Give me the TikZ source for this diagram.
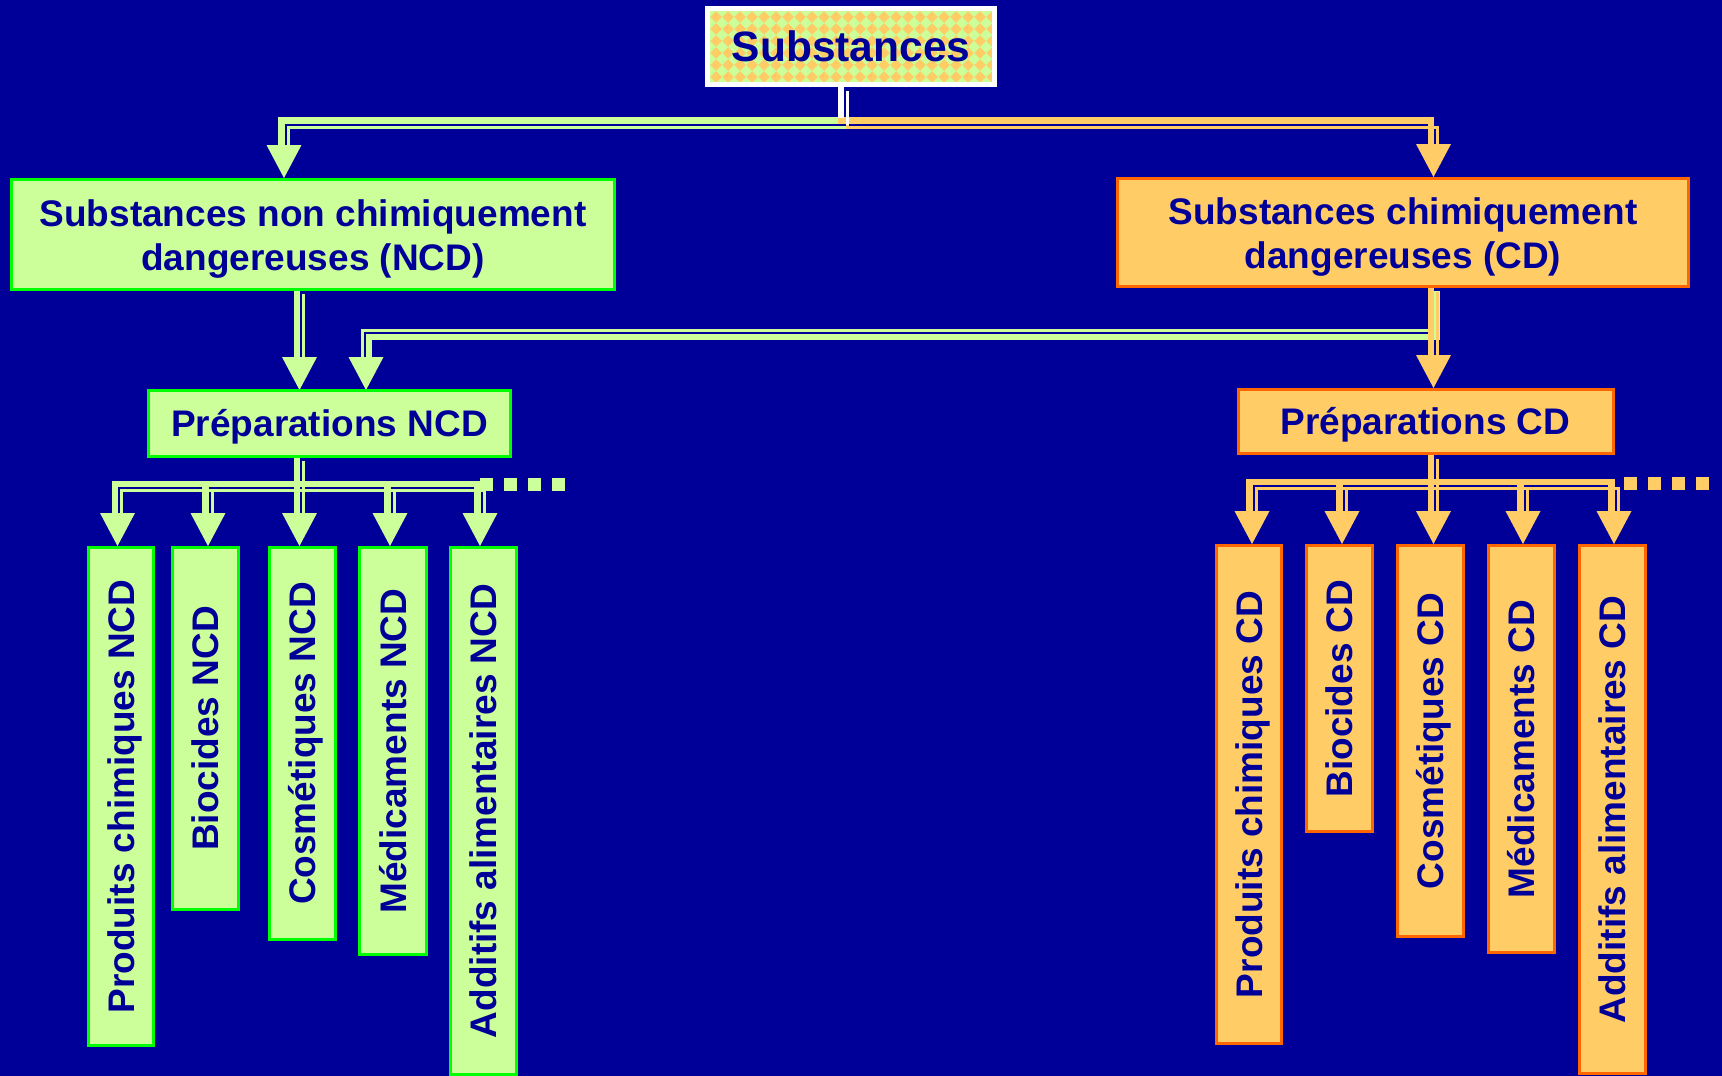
\documentclass[tikz,border=0pt]{standalone}
\usepackage{fontspec}
\setmainfont{Liberation Sans}
\definecolor{navy}{RGB}{0,0,153}
\definecolor{lightgreen}{RGB}{204,255,153}
\definecolor{brightgreen}{RGB}{0,255,0}
\definecolor{lightorange}{RGB}{255,204,102}
\definecolor{deeporange}{RGB}{255,102,0}

\pgfdeclarelayer{back}
\pgfdeclarelayer{links}
\pgfsetlayers{back,links,main}

\tikzset{
  lbl/.style={font=\fontsize{37}{44.5}\selectfont\bfseries, text=navy, align=center, inner sep=0pt},
  capmid/.style={text height=26.5pt, text depth=0pt},
  ncdbox/.style={lbl, draw=brightgreen, fill=lightgreen, line width=3pt},
  cdbox/.style={lbl, draw=deeporange, fill=lightorange, line width=3pt},
  % twin connector: a broad band and a narrow band side by side
  broadA/.style={line width=6.5pt, transform canvas={shift={(-2.75,-2.75)}}},
  narrowA/.style={line width=3pt, transform canvas={shift={(4,4)}}},
  broadB/.style={line width=6.5pt, transform canvas={shift={(2.75,2.75)}}},
  narrowB/.style={line width=3pt, transform canvas={shift={(-4,-4)}}},
}
\newcommand\twinline[3]{\draw[#1,broad#2] #3; \draw[#1,narrow#2] #3;}
\newcommand\arrowhd[2]{\fill[#1] (#2) -- ++(-17.5,-33) -- ++(35,0) -- cycle;}

\begin{document}
\begin{tikzpicture}[x=1pt,y=-1pt]
\begin{pgfonlayer}{back}
  \fill[navy] (0,0) rectangle (1722,1076);
\end{pgfonlayer}
\useasboundingbox (0,0) rectangle (1722,1076);

% diamond pattern behind the title
\begin{scope}
  \clip (710,11) rectangle (992,82);
  \fill[lightorange] (710,11) rectangle (992,82);
  \foreach \i in {0,...,24}{\foreach \j in {0,...,6}{
    \fill[lightgreen] (710+12*\i,5+12*\j) -- ++(6,6) -- ++(-6,6) -- ++(-6,-6) -- cycle;}}
\end{scope}
\node[draw=white, line width=5pt, minimum width=287pt, minimum height=76pt,
      inner sep=0pt, font=\fontsize{42.5}{50}\selectfont\bfseries, text=navy,
      text height=30.4pt, text depth=0pt]
      (sub) at (851,46.5) {Substances};

% second row
\node[ncdbox, minimum width=603pt, minimum height=110pt,
      label={[lbl, yshift=-4.5pt]center:Substances non chimiquement\\dangereuses (NCD)}]
      (ncd) at (313,234.5) {};
\node[cdbox, minimum width=571pt, minimum height=108pt,
      label={[lbl, yshift=-4.5pt]center:Substances chimiquement\\dangereuses (CD)}]
      (cd) at (1403,232.5) {};

% preparations
\node[ncdbox, capmid, minimum width=362pt, minimum height=66pt] (pncd) at (329.5,423.5) {Préparations NCD};
\node[cdbox, capmid, minimum width=375pt, minimum height=64pt] (pcd) at (1425.5,421) {Préparations CD};

% categories, non dangerous
\tikzset{vcat/.style={rotate=90, capmid}}
\node[ncdbox, vcat, minimum width=498pt, minimum height=65pt] (lprod) at (121,796.5) {Produits chimiques NCD};
\node[ncdbox, vcat, minimum width=362pt, minimum height=66pt] (lbio) at (205.5,728.5) {Biocides NCD};
\node[ncdbox, vcat, minimum width=392pt, minimum height=66pt] (lcos) at (302.5,743.5) {Cosmétiques NCD};
\node[ncdbox, vcat, minimum width=407pt, minimum height=67pt] (lmed) at (393,751) {Médicaments NCD};
\node[ncdbox, vcat, minimum width=527pt, minimum height=66pt] (ladd) at (483.5,811) {Additifs alimentaires NCD};

% categories, dangerous
\node[cdbox, vcat, minimum width=498pt, minimum height=65pt] (rprod) at (1249,794.5) {Produits chimiques CD};
\node[cdbox, vcat, minimum width=286pt, minimum height=66pt] (rbio) at (1339.5,688.5) {Biocides CD};
\node[cdbox, vcat, minimum width=391pt, minimum height=66pt] (rcos) at (1430.5,741) {Cosmétiques CD};
\node[cdbox, vcat, minimum width=407pt, minimum height=66pt] (rmed) at (1521.5,749) {Médicaments CD};
\node[cdbox, vcat, minimum width=528pt, minimum height=66pt] (radd) at (1612.5,809.5) {Additifs alimentaires CD};

% connector ends
\coordinate (sOut) at (843.5,87);
\coordinate (ncdIn) at (284,178);
\coordinate (cdIn) at (1433.5,177);
\coordinate (ncdOut) at (299.5,290);
\coordinate (cdOut) at (1433.5,288);
\coordinate (pncdInA) at (299.5,390);
\coordinate (pncdInB) at (366,390);
\coordinate (pcdIn) at (1433.5,388);
\coordinate (pncdOut) at (299.5,457);
\coordinate (pcdOut) at (1433.5,455);
\foreach \n/\x in {lprod/117.5,lbio/208,lcos/299.5,lmed/390,ladd/480}
  \coordinate (\n In) at (\x,546);
\foreach \n/\x in {rprod/1252,rbio/1342,rcos/1433.5,rmed/1523,radd/1614}
  \coordinate (\n In) at (\x,544);

\begin{pgfonlayer}{links}
  % from the title
  \twinline{lightgreen}{A}{(sOut) -- (843.5,123) -| ([yshift=20pt]ncdIn)}
  \twinline{lightorange}{A}{(sOut) -- (843.5,123) -| ([yshift=20pt]cdIn)}
  \twinline{white}{A}{(sOut) -- (843.5,121)}
  \arrowhd{lightgreen}{ncdIn}
  \arrowhd{lightorange}{cdIn}
  % to the preparations
  \twinline{lightgreen}{A}{(ncdOut) -- ([yshift=20pt]pncdInA)}
  \arrowhd{lightgreen}{pncdInA}
  \twinline{lightgreen}{B}{(cdOut) -- (1433.5,334) -| ([yshift=20pt]pncdInB)}
  \arrowhd{lightgreen}{pncdInB}
  \twinline{lightorange}{A}{(cdOut) -- ([yshift=20pt]pcdIn)}
  \arrowhd{lightorange}{pcdIn}
  % to the categories
  \foreach \n in {lprod,lbio,lcos,lmed,ladd}{
    \twinline{lightgreen}{A}{(pncdOut) -- (299.5,486.5) -| ([yshift=20pt]\n In)}
    \arrowhd{lightgreen}{\n In}
  }
  \foreach \n in {rprod,rbio,rcos,rmed,radd}{
    \twinline{lightorange}{A}{(pcdOut) -- (1433.5,484.5) -| ([yshift=20pt]\n In)}
    \arrowhd{lightorange}{\n In}
  }
\end{pgfonlayer}

% trailing dots
\foreach \x in {480,504,528,552}
  \fill[lightgreen] (\x,478) rectangle ++(12.5,12.5);
\foreach \x in {1624,1648,1672,1696}
  \fill[lightorange] (\x,477) rectangle ++(12.5,12.5);
\end{tikzpicture}
\end{document}
